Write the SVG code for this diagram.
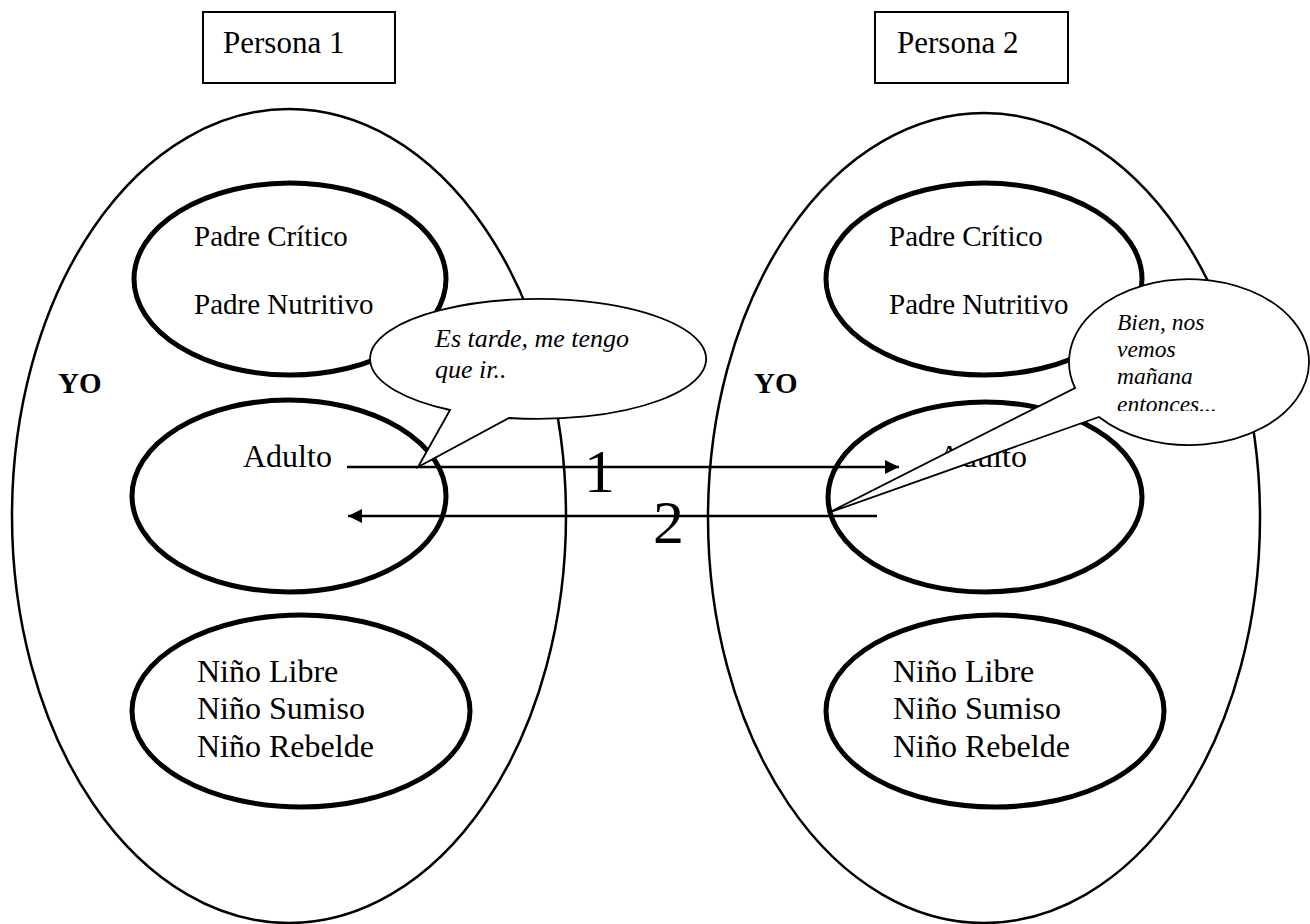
<svg xmlns="http://www.w3.org/2000/svg" width="1310" height="924" viewBox="0 0 1310 924">
<defs>
<style>
.t{font-family:"Liberation Serif","Times New Roman",serif;fill:#000}
.per{font-size:31px}
.lab{font-size:29px}
.nin{font-size:32px}
.yo{font-size:29px;font-weight:bold}
.it{font-style:italic}
.num{font-size:62px}
.outer{fill:none;stroke:#000;stroke-width:2.5}
.inner{fill:none;stroke:#000;stroke-width:5}
.box{fill:#fff;stroke:#000;stroke-width:2}
.bub{fill:#fff;stroke:#000;stroke-width:1.8;stroke-linejoin:miter}
.arr{fill:none;stroke:#000;stroke-width:2.5}
</style>
<marker id="ah" viewBox="0 0 10 10" refX="10" refY="5" markerWidth="6.4" markerHeight="5.6" markerUnits="strokeWidth" orient="auto">
<path d="M0,0 L10,5 L0,10 z" fill="#000"/>
</marker>
<clipPath id="clipB2"><rect x="1090" y="300" width="200" height="111"/></clipPath>
</defs>
<rect width="1310" height="924" fill="#fff"/>

<g id="persona1">
<rect class="box" x="203" y="12" width="192" height="71"/>
<text class="t per" x="223" y="53">Persona 1</text>
</g>
<g id="persona2">
<rect class="box" x="875" y="12" width="193" height="71"/>
<text class="t per" x="897" y="53">Persona 2</text>
</g>

<g id="yo1">
<ellipse class="outer" cx="289" cy="516" rx="277" ry="407"/>
<text class="t yo" x="58" y="393">YO</text>
</g>
<g id="yo2">
<ellipse class="outer" cx="984" cy="518" rx="276" ry="405"/>
<text class="t yo" x="754" y="393">YO</text>
</g>

<g id="padre1">
<ellipse class="inner" cx="290" cy="279" rx="156" ry="96"/>
<text class="t lab" x="194" y="246">Padre Crítico</text>
<text class="t lab" x="194" y="314">Padre Nutritivo</text>
</g>
<g id="padre2">
<ellipse class="inner" cx="984" cy="279" rx="158" ry="96"/>
<text class="t lab" x="889" y="246">Padre Crítico</text>
<text class="t lab" x="889" y="314">Padre Nutritivo</text>
</g>

<g id="adulto1">
<ellipse class="inner" cx="289" cy="496" rx="157" ry="96"/>
<text class="t nin" x="243" y="467">Adulto</text>
</g>
<g id="adulto2">
<ellipse class="inner" cx="985" cy="497" rx="157" ry="95"/>
<text class="t nin" x="938" y="467">Adulto</text>
</g>

<g id="nino1">
<ellipse class="inner" cx="301" cy="711" rx="169" ry="96"/>
<text class="t nin" x="197" y="682">Niño Libre</text>
<text class="t nin" x="197" y="719">Niño Sumiso</text>
<text class="t nin" x="197" y="757">Niño Rebelde</text>
</g>
<g id="nino2">
<ellipse class="inner" cx="995" cy="711" rx="169" ry="96"/>
<text class="t nin" x="893" y="682">Niño Libre</text>
<text class="t nin" x="893" y="719">Niño Sumiso</text>
<text class="t nin" x="893" y="757">Niño Rebelde</text>
</g>

<g id="connectors">
<line class="arr" x1="347" y1="467" x2="899" y2="467" marker-end="url(#ah)"/>
<line class="arr" x1="877" y1="516" x2="348" y2="516" marker-end="url(#ah)"/>
<text class="t num" x="584" y="492">1</text>
<text class="t num" x="653" y="543">2</text>
</g>

<g id="bubble1">
<path class="bub" d="M450,410 A168,60 0 1 1 509,418 L418,467 Z"/>
<text class="t it" font-size="26" x="435" y="347">Es tarde, me tengo</text>
<text class="t it" font-size="26" x="435" y="378">que ir..</text>
</g>

<g id="bubble2">
<path class="bub" d="M1075,388 A120,83 0 1 1 1099,417 L828,513 Z"/>
<g clip-path="url(#clipB2)">
<text class="t it" font-size="23.5" x="1117" y="330">Bien, nos</text>
<text class="t it" font-size="23.5" x="1117" y="357">vemos</text>
<text class="t it" font-size="23.5" x="1117" y="384">mañana</text>
<text class="t it" font-size="23.5" x="1117" y="412">entonces...</text>
</g>
</g>
</svg>
